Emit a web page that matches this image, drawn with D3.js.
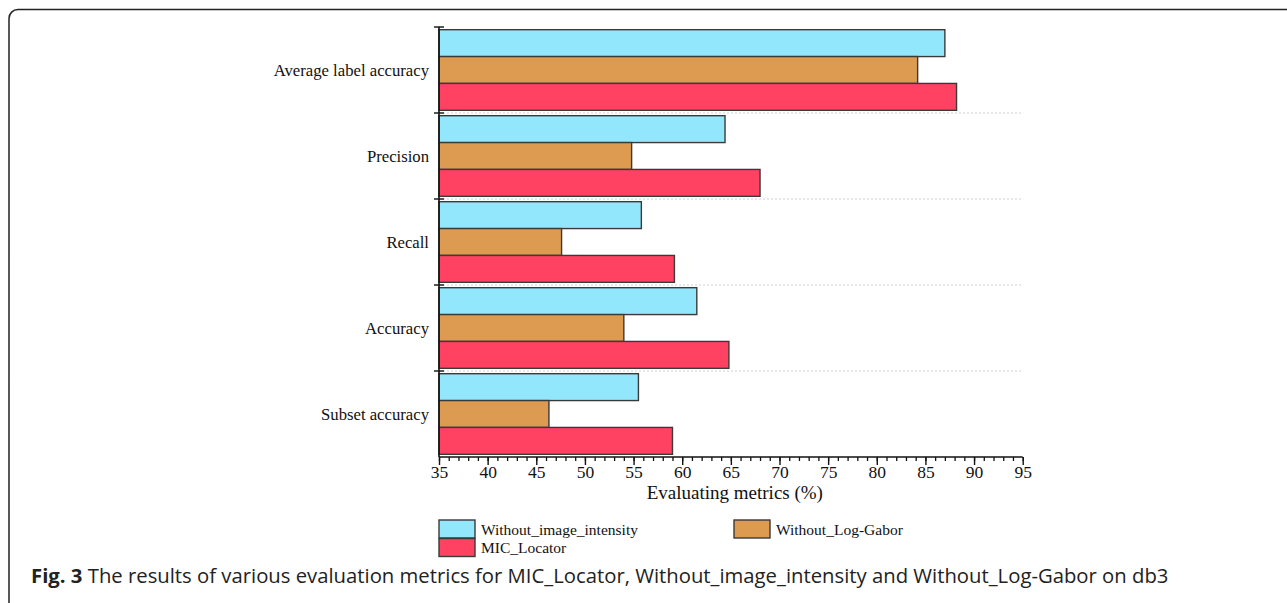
<!DOCTYPE html>
<html><head><meta charset="utf-8">
<script src="https://cdn.jsdelivr.net/npm/d3@7"></script>
<style>
html,body{margin:0;padding:0;background:#fff;}
svg{display:block;}
</style></head>
<body>
<script>
const categories = ["Average label accuracy","Precision","Recall","Accuracy","Subset accuracy"];
const seriesNames = ["Without_image_intensity","Without_Log-Gabor","MIC_Locator"];
const withoutImageIntensity = [87.0, 64.4, 55.8, 61.5, 55.5];
const withoutLogGabor = [84.2, 54.8, 47.6, 54.0, 46.3];
const micLocator = [88.2, 68.0, 59.2, 64.8, 59.0];
const xTicks = [35,40,45,50,55,60,65,70,75,80,85,90,95];
const colors = ["#93e7fd","#dd9b52","#ff4262"];
const seriesValues = [withoutImageIntensity, withoutLogGabor, micLocator];

const W = 1287, H = 603;
const svg = d3.select("body").append("svg").attr("width", W).attr("height", H);

// figure frame
svg.append("rect").attr("x", 9).attr("y", 9.5).attr("width", 1300).attr("height", 603)
  .attr("rx", 9).attr("fill", "none").attr("stroke", "#222").attr("stroke-width", 1.5);

const L = 439, R = 1022.7, T = 27, B = 457;
const x = d3.scaleLinear().domain([35,95]).range([L,R]);
const y = d3.scaleBand().domain(categories).range([T,B]).paddingInner(0).paddingOuter(0);
const inner = d3.scaleBand().domain(d3.range(3)).range([0, y.bandwidth()]).paddingOuter(0.1).paddingInner(0);

const serif = "'Liberation Serif','Times New Roman',serif";

// grid lines (dotted) at category boundaries
categories.slice(1).forEach(c => {
  svg.append("line").attr("x1", L).attr("x2", R).attr("y1", y(c)).attr("y2", y(c))
    .attr("stroke", "#d0d0d0").attr("stroke-width", 1).attr("stroke-dasharray", "2,2");
});

// bars
categories.forEach((c, i) => {
  seriesValues.forEach((vals, s) => {
    svg.append("rect")
      .attr("x", x(35)).attr("y", y(c) + inner(s))
      .attr("width", x(vals[i]) - x(35)).attr("height", inner.bandwidth())
      .attr("fill", colors[s]).attr("stroke", "#3a3a3a").attr("stroke-width", 1.4);
  });
});

// y axis
svg.append("line").attr("x1", L).attr("x2", L).attr("y1", T).attr("y2", B)
  .attr("stroke", "#111").attr("stroke-width", 1.6);
const boundaries = [T].concat(categories.slice(1).map(c => y(c)));
boundaries.forEach((yy) => {
  svg.append("line").attr("x1", L - 5).attr("x2", L + 5).attr("y1", yy).attr("y2", yy)
    .attr("stroke", "#111").attr("stroke-width", 1.4);
});
categories.forEach(c => {
  svg.append("text").attr("x", 429).attr("y", y(c) + y.bandwidth()/2)
    .attr("text-anchor", "end").attr("dominant-baseline", "central")
    .attr("font-family", serif).attr("font-size", 16.7).attr("fill", "#111").text(c);
});

// x axis
const xAxis = svg.append("g").attr("transform", `translate(0,${B})`);
xAxis.call(d3.axisBottom(x).tickValues(d3.range(35,96,1)).tickSize(4).tickFormat(""));
xAxis.call(g => g.select(".domain").remove());
xAxis.selectAll("line").attr("stroke", "#111").attr("stroke-width", 1.3);
const xMajor = svg.append("g").attr("transform", `translate(0,${B})`)
  .call(d3.axisBottom(x).tickValues(xTicks).tickSize(8).tickPadding(1).tickFormat(d3.format("d")));
xMajor.select(".domain").attr("stroke", "#111").attr("stroke-width", 1.6).attr("d", `M${L},0H${R}`);
xMajor.selectAll("line").attr("stroke", "#111").attr("stroke-width", 1.4);
xMajor.selectAll("text").attr("font-family", serif).attr("font-size", 17.5).attr("fill", "#111");

svg.append("text").attr("x", (L + R)/2 + 4).attr("y", 499).attr("text-anchor", "middle")
  .attr("font-family", serif).attr("font-size", 19).attr("fill", "#111").text("Evaluating metrics (%)");

// legend
const legendPos = [[439,520],[734,520],[439,538.5]];
seriesNames.forEach((n, s) => {
  const [lx, ly] = legendPos[s];
  svg.append("rect").attr("x", lx).attr("y", ly).attr("width", 36).attr("height", 18)
    .attr("fill", colors[s]).attr("stroke", "#3a3a3a").attr("stroke-width", 1.4);
  svg.append("text").attr("x", lx + 42).attr("y", ly + 9).attr("dominant-baseline", "central")
    .attr("font-family", serif).attr("font-size", 15.5).attr("fill", "#111").text(n);
});

// caption
const cap = svg.append("text").attr("x", 31).attr("y", 583)
  .attr("font-family", "'Open Sans','Noto Sans',sans-serif").attr("font-size", 20.3).attr("fill", "#222");
cap.append("tspan").attr("font-weight", "bold").text("Fig. 3");
cap.append("tspan").text(" The results of various evaluation metrics for MIC_Locator, Without_image_intensity and Without_Log-Gabor on db3");
</script>
</body></html>
